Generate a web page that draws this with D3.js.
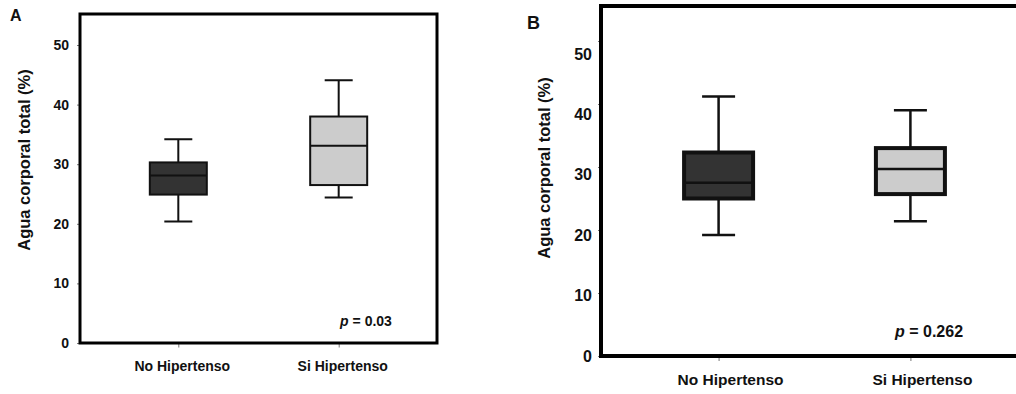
<!DOCTYPE html>
<html>
<head>
<meta charset="utf-8">
<script src="https://cdn.jsdelivr.net/npm/d3@7"></script>
<style>
  body { margin: 0; background: #fff; }
  text { font-family: 'Liberation Sans', Arial, sans-serif; font-weight: bold; fill: #111; }
</style>
</head>
<body>
<div class="chart"></div>
<script>
const categories = ['No Hipertenso', 'Si Hipertenso'];
const yTicks = [0, 10, 20, 30, 40, 50];
const fills = ['#333333', '#cccccc'];

// panel A
const aMin = [20.4, 24.4];
const aQ1 = [24.9, 26.5];
const aMedian = [28.1, 33.1];
const aQ3 = [30.3, 38.0];
const aMax = [34.2, 44.1];

// panel B
const bMin = [19.2, 21.4];
const bQ1 = [25.0, 25.7];
const bMedian = [27.5, 29.7];
const bQ3 = [32.3, 33.0];
const bMax = [41.2, 39.0];

const panelLetters = ['A', 'B'];
const pValues = ['0.03', '0.262'];
const yTitle = 'Agua corporal total (%)';

const svg = d3.select('.chart')
    .append('svg')
    .attr('width', 1016)
    .attr('height', 394);

function drawPanel(p) {
    const g = svg.append('g');

    const x = d3.scalePoint()
        .domain(categories)
        .range([p.left, p.right])
        .padding(0.613);

    const y = d3.scaleLinear()
        .domain([0, 50])
        .range([p.bottom, p.y50]);

    // tick labels in B sit a bit off their ticks in the original
    const yLab = d3.scaleLinear()
        .domain([0, 50])
        .range([p.bottom, p.label50]);

    const rows = categories.map((c, i) => ({
        cat: c, min: p.min[i], q1: p.q1[i], med: p.med[i], q3: p.q3[i], max: p.max[i], fill: fills[i]
    }));

    // small tick marks
    const yAxis = g.append('g')
        .attr('transform', `translate(${p.left},0)`)
        .call(d3.axisLeft(y).tickValues(yTicks).tickSize(3).tickFormat(''));
    yAxis.select('.domain').remove();
    yAxis.selectAll('line').attr('stroke', '#777');

    const xAxis = g.append('g')
        .attr('transform', `translate(0,${p.bottom})`)
        .call(d3.axisBottom(x).tickSize(p.frameW / 2 + 3).tickFormat(''));
    xAxis.select('.domain').remove();
    xAxis.selectAll('line').attr('stroke', '#777');

    g.selectAll('.ylab')
        .data(yTicks)
        .join('text')
        .attr('class', 'ylab')
        .attr('x', p.left - p.labelGap)
        .attr('y', d => yLab(d))
        .attr('dy', '0.35em')
        .attr('text-anchor', 'end')
        .attr('font-size', p.tickFont)
        .text(d => d);

    g.selectAll('.xlab')
        .data(categories)
        .join('text')
        .attr('class', 'xlab')
        .attr('x', d => x(d) + p.catShift)
        .attr('y', p.catY)
        .attr('dy', '0.35em')
        .attr('text-anchor', 'middle')
        .attr('font-size', p.catFont)
        .text(d => d);

    // frame
    g.append('rect')
        .attr('x', p.left)
        .attr('y', p.top)
        .attr('width', p.right - p.left)
        .attr('height', p.bottom - p.top)
        .attr('fill', 'none')
        .attr('stroke', '#000')
        .attr('stroke-width', p.frameW);

    // whiskers
    g.selectAll('.whisk')
        .data(rows)
        .join('path')
        .attr('class', 'whisk')
        .attr('fill', 'none')
        .attr('stroke', '#111')
        .attr('stroke-width', p.whiskW)
        .attr('d', d => {
            const cx = x(d.cat), c = p.capW / 2;
            return `M${cx},${y(d.q3)}V${y(d.max)}M${cx - c},${y(d.max)}H${cx + c}` +
                   `M${cx},${y(d.q1)}V${y(d.min)}M${cx - c},${y(d.min)}H${cx + c}`;
        });

    g.selectAll('.box')
        .data(rows)
        .join('rect')
        .attr('class', 'box')
        .attr('x', d => x(d.cat) - p.boxW / 2)
        .attr('y', d => y(d.q3))
        .attr('width', p.boxW)
        .attr('height', d => y(d.q1) - y(d.q3))
        .attr('fill', d => d.fill)
        .attr('stroke', '#111')
        .attr('stroke-width', p.boxStroke);

    g.selectAll('.med')
        .data(rows)
        .join('line')
        .attr('class', 'med')
        .attr('x1', d => x(d.cat) - p.boxW / 2)
        .attr('x2', d => x(d.cat) + p.boxW / 2)
        .attr('y1', d => y(d.med))
        .attr('y2', d => y(d.med))
        .attr('stroke', '#111')
        .attr('stroke-width', p.medW);

    g.append('text')
        .attr('transform', `translate(${p.titleX},${p.titleY}) rotate(-90)`)
        .attr('text-anchor', 'middle')
        .attr('dy', '0.35em')
        .attr('font-size', 16.5)
        .text(yTitle);

    const pt = g.append('text')
        .attr('x', p.pX)
        .attr('y', p.pY)
        .attr('dy', '0.35em')
        .attr('text-anchor', 'middle')
        .attr('font-size', p.tickFont);
    pt.append('tspan').attr('font-style', 'italic').text('p');
    pt.append('tspan').text(' = ' + p.pValue);

    g.append('text')
        .attr('x', p.letterX)
        .attr('y', p.letterY)
        .attr('dy', '0.35em')
        .attr('font-size', p.letterFont)
        .text(p.letter);
}

drawPanel({
    left: 80, right: 437, top: 14, bottom: 343, y50: 45, label50: 45,
    min: aMin, q1: aQ1, med: aMedian, q3: aQ3, max: aMax,
    frameW: 3, boxStroke: 2, whiskW: 2, medW: 2, boxW: 57, capW: 28,
    tickFont: 14, catFont: 14, catY: 366, catShift: 4, labelGap: 11,
    titleX: 24, titleY: 160, pX: 366, pY: 321, pValue: pValues[0],
    letter: panelLetters[0], letterX: 10, letterY: 15, letterFont: 16
});

drawPanel({
    left: 601, right: 1028, top: 6, bottom: 356, y50: 41, label50: 54,
    min: bMin, q1: bQ1, med: bMedian, q3: bQ3, max: bMax,
    frameW: 4, boxStroke: 4, whiskW: 2.5, medW: 2.5, boxW: 69, capW: 33,
    tickFont: 16, catFont: 15.5, catY: 380, catShift: 12, labelGap: 9,
    titleX: 544, titleY: 168, pX: 929, pY: 331, pValue: pValues[1],
    letter: panelLetters[1], letterX: 527, letterY: 23, letterFont: 18
});
</script>
</body>
</html>
